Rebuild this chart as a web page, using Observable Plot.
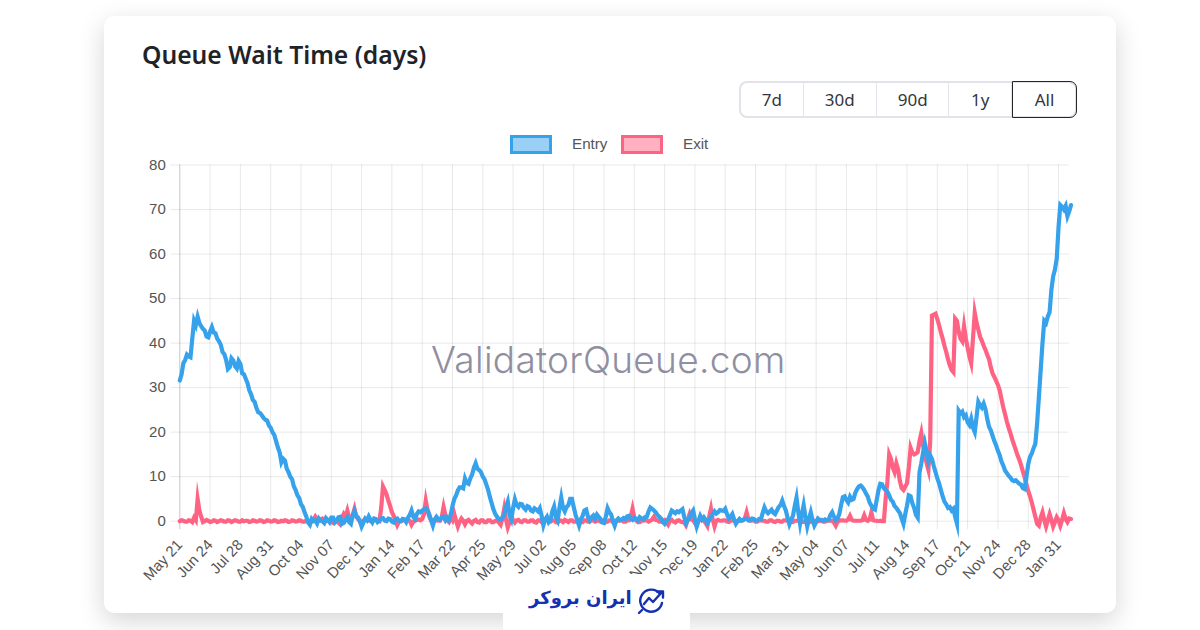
<!DOCTYPE html>
<html>
<head>
<meta charset="utf-8">
<script src="https://cdn.jsdelivr.net/npm/d3@7"></script>
<script src="https://cdn.jsdelivr.net/npm/@observablehq/plot@0.6"></script>
<style>
html,body{margin:0;padding:0;background:#fff;width:1200px;height:630px;overflow:hidden}
.abs{position:absolute}
#card{left:104px;top:16px;width:1012px;height:597px;background:#fff;border-radius:10px;box-shadow:0 8px 26px rgba(0,0,0,.17)}
#title{left:142px;top:38px;font:600 24.7px "Noto Sans",sans-serif;color:#1f2328;white-space:nowrap}
#range{left:739px;top:81px;width:338px;height:37px;box-sizing:border-box;display:flex;border:2px solid #e2e3e9;border-radius:8px;font:17px "Noto Sans",sans-serif;color:#33363b}
#range div{display:flex;align-items:center;justify-content:center;box-sizing:border-box;border-right:1px solid #e4e5ea}
#range div:last-child{border:1.5px solid #24262a;border-radius:0 7px 7px 0;margin:-2px -2px -2px 0;flex:none}
.swatch{top:135px;width:42px;height:19px;box-sizing:border-box;border:3.5px solid}
.leg{top:135px;font:15.2px "Liberation Sans",sans-serif;color:#555;line-height:17px}
#mark{left:431px;top:337px;font:300 37px "Inter",sans-serif;color:#8f8fa1;white-space:nowrap;letter-spacing:.3px}
#tab{left:503px;top:574px;width:187px;height:56px;background:#fff}
#logo{left:529px;top:587px;font:700 18px "DejaVu Sans",sans-serif;color:#1530b0;direction:rtl;white-space:nowrap}
#icon{left:636px;top:588px}
#plot{left:0;top:0}
</style>
</head>
<body>
<div id="card" class="abs"></div>
<div id="title" class="abs">Queue Wait Time (days)</div>
<div id="range" class="abs"></div>
<div class="abs swatch" style="left:510px;border-color:#36A2EB;background:rgba(54,162,235,.5)"></div>
<div class="abs leg" style="left:572px">Entry</div>
<div class="abs swatch" style="left:621px;border-color:#FF6384;background:rgba(255,99,132,.5)"></div>
<div class="abs leg" style="left:683px">Exit</div>
<div id="plot" class="abs"></div>
<div id="mark" class="abs">ValidatorQueue.com</div>
<div id="tab" class="abs"></div>
<div id="logo" class="abs">ایران بروکر</div>
<svg id="icon" class="abs" width="30" height="27" viewBox="0 0 30 27" fill="none" stroke="#1530b0" stroke-width="2.4" stroke-linecap="round" stroke-linejoin="round">
  <path d="M24 6A11 11 0 1 0 26 15"/><path d="M8 16l5-6 4 4 9-10"/><path d="M21 3.5h6v6"/><path d="M6 22l-3 3"/>
</svg>
<script>
const rangeLabels = ["7d","30d","90d","1y","All"];
const rangeWidths = [63,74,73,63,65];

const seriesStart = "2023-05-21";
const sampleStepDays = 2;

const entryWait = [
31.6,33,35.5,36.2,37.4,37,36.8,41,45,44,45.9,44.5,43.8,43.2,42.8,41.5,41.3,42.6,43.6,42.4,
42.2,41,40.4,39.6,38,37.5,36.2,34.2,34.6,36.6,36.1,34.8,34.3,36,35.3,33.2,33,32,31,29.4,
28.5,27.2,26.8,25.4,24.5,24.3,23.8,23.2,22.8,22.6,21.5,21,20,19.4,18,16.6,15.5,13.2,14,13.6,
11.8,11,10,9.4,7.8,7,5.8,5.2,3.8,3.2,2,1,-.3,-.8,.5,0,.2,-.5,.6,.1,
0,-.4,.7,.3,-.2,.8,.8,-.3,.1,.9,1,-.6,-.4,.3,.9,-.2,-.6,1.2,2.3,1.2,
.8,.1,-1.2,-.3,.6,.2,1.1,.3,-.3,.6,.5,-.2,.1,.6,.7,.1,0,.6,.5,-.1,
-.3,.4,.6,.1,0,.5,.4,-.2,.8,1.4,2.4,1,.5,1.6,2.2,2,2.4,2.7,2.9,2.5,
1.5,.2,-1,.4,1,.5,.3,.9,1,.2,.8,.3,1.5,3.4,5,5.8,6.9,7.6,7.6,7.4,
9.6,8.6,8.4,9.6,10.5,12,13,11.8,11.5,11,10,9.4,8.2,7,5.4,4,2.6,1.6,1,.4,
.3,.8,1.4,3.2,4.4,1.4,.4,3,4.9,3.6,3.2,3.9,3.8,3,2.6,3.4,3.2,2.4,2.2,2.9,
2.6,2.2,2.9,1.2,-.9,.4,1,-.2,.3,2.2,3.3,1,.2,3,5.3,3,2.2,3.2,3.6,5,
5,3.2,1.5,.2,-1,.4,1.2,2.4,2.6,1,.2,.9,1.3,.6,1.5,1,.5,-.3,-.4,1,
2.9,2,1.5,.1,-1,.2,.6,.2,.4,.7,.5,1.1,1.2,.6,.3,.8,.5,.2,.9,.6,
.4,.9,1,2.2,3.1,2.8,2.4,2,1.4,1,.6,-.2,-.6,.1,.4,1.4,2.4,2.1,1.8,2.2,
2,2.4,2.7,1,-.5,.2,.8,1.8,2.4,.5,-1.2,.1,1.2,.4,.9,.3,-.5,.2,.9,1.6,
2.2,1.7,2,2.5,2.4,2.3,2.8,1.6,.6,1,1.6,.4,-.6,0,.5,.1,.3,.5,.6,.2,
.2,.6,.5,.1,.2,.5,.4,1.8,3.1,2.2,1.8,2.2,2.6,1.9,1.6,2.4,3.2,3.6,4.6,3.4,
2.4,.8,-.7,.3,1.2,3.4,5.3,2,-.6,1.6,3.6,1,-1.2,.5,2,.2,-1,-.2,.6,.3,
.3,.1,.4,.2,.3,1.4,2,1,.2,.6,1.6,3.6,5.4,5.6,4.8,4.2,5.5,4.8,5,6.4,
7.2,7.8,8,7.6,7,6.2,5.5,4.2,3.5,2.8,2.6,4.8,7,8.4,8.3,7.4,7,6.6,5.8,4.8,
4.4,3.4,3,2.4,1.8,.6,-.6,1.6,3.5,5.8,5.6,4,3,1.4,.8,11,13,15.4,17.5,15.6,
13.5,14.8,14,12.4,11,9.6,8.5,7,5.6,4.4,3.8,3,3.2,2.4,2.8,1,-.5,24.8,24.2,24.6,
23.4,23.8,22.2,21.6,23,21,20,23.4,26.8,26,25.5,26.4,25.2,23,21.2,20.4,19.2,18,17,15.8,
14.8,13.4,12.5,11.4,10.8,10.2,9.8,9.2,9,9.2,8.8,8.4,8.2,7.4,7.2,10,12.8,14.4,15.2,16.4,
17.4,22,28,34,40,45,44.5,46,47,52,55,56.5,59,66,71,70.6,70,70.8,68.5,69.6,
71];

const exitWait = [
0,.2,.1,-.1,-.1,.2,.1,-.2,.8,.2,5,2.4,1,-.2,0,.3,.1,-.2,-.1,.2,
.1,-.2,0,.2,.1,-.1,-.1,.2,.1,-.2,0,.2,.1,-.1,-.1,.2,0,.1,.1,-.2,
-.1,.2,.1,-.1,0,.2,.1,-.2,-.1,.2,.1,-.1,0,.2,.1,-.2,-.1,.1,0,.2,
.1,-.2,-.1,.2,.1,-.1,0,.2,.1,-.1,-.1,.2,.1,-.2,.1,.3,1,.3,.2,.4,
.6,.1,0,.2,.3,-.2,-.4,.1,.2,-.3,-.7,.6,1.6,1,2.4,.8,.4,1.4,2.8,1,
.5,-.1,-.8,.1,.5,.3,.2,0,0,.3,.2,.1,0,3,7.8,7,6,4.6,3.4,2,
1.2,.2,-.9,-.1,0,.2,.2,.1,.3,.1,-.8,-.1,.1,.3,.4,.2,.5,1.6,4.6,2.4,
1,.2,0,.1,.2,.1,.1,1,3.2,1.4,.2,-.2,.8,.2,1.6,.1,-1.2,-.1,.6,.1,
-.7,.1,.3,-.1,-.5,.1,.3,-.2,-.3,.2,.2,-.2,-.2,.2,.2,-.2,-.2,.1,.1,-.3,
-.8,.6,2.8,.4,-1.4,-.2,1.2,.2,-.3,.2,.3,-.1,-.2,.2,.2,-.1,-.1,.2,.2,-.2,
-.3,.2,.2,-.2,-.2,.2,.3,-.1,-.1,.2,.2,-.2,-.3,.2,.1,-.2,.3,.1,-.2,.2,
.2,-.1,-.1,.2,.3,-.2,-.2,.2,.2,-.1,-.1,.2,.2,-.1,.1,.2,-.1,.1,.2,-.2,
-.1,.2,.2,-.2,-.2,.1,.1,.2,.2,-.1,-.1,.2,.2,1,2.8,.8,.2,-.2,-.2,.1,
.1,.2,.2,-.1,.1,.4,1,.3,.2,-.1,-.1,.2,.3,-.2,-.8,.1,.3,-.1,-.3,.1,
.2,-.1,-.2,-.3,-.9,.4,1.6,.4,.2,-.4,-1,.1,.6,.2,.2,-.4,-1.1,1,2.8,.4,
-1.2,.1,.3,.1,.1,.2,.2,-.1,-.2,.1,.2,.1,-.1,.1,.1,.2,.2,.6,2,.4,
.1,.2,.2,-.1,-.1,.2,.2,.1,.1,-.1,-.1,.2,.2,-.1,-.2,.1,.1,-.1,-.1,.2,
.2,.1,.1,-.1,-.2,.1,.1,.1,.1,-.1,-.2,.1,.2,.1,-.1,.1,.1,-.1,0,.1,
.1,-.1,-.1,.1,.1,.1,.1,-.3,-1,-.1,.1,.2,.2,.1,.1,.4,1.2,.3,.1,.1,
.1,.1,.1,.2,1.3,.3,.1,.4,2,.2,.1,.1,0,.1,0,0,5,9,15,14,
12,11,13,11.6,9,7.4,7,7.8,8.5,12,16.5,15.4,15,15.2,15.5,18,19.8,17,15,13,
11.5,18,46.2,46.4,46.6,45.4,44,42.4,41,39.4,38,36.4,35,34,33.5,45.5,45,42.6,41,40.4,
43.8,41,39,37,35.5,41,46.8,44.6,43,41.4,40.5,39.4,38.5,37.4,36.4,34.6,33.2,32.4,31.5,30.6,
29.4,27.4,25.6,24,22.4,21,19.8,18.4,17.2,16,14.8,13.8,12.6,11.2,9.8,8.2,6.8,5.6,4.2,2.6,
1,-.6,-1,.8,2,.2,-1.2,.2,1.6,.3,-1.2,-.2,.9,.2,-1,.3,1.8,.5,-.2,.6,
.5];

const tickDates = ["2023-05-21","2023-06-24","2023-07-28","2023-08-31","2023-10-04","2023-11-07","2023-12-11","2024-01-14","2024-02-17","2024-03-22","2024-04-25","2024-05-29","2024-07-02","2024-08-05","2024-09-08","2024-10-12","2024-11-15","2024-12-19","2025-01-22","2025-02-25","2025-03-31","2025-05-04","2025-06-07","2025-07-11","2025-08-14","2025-09-17","2025-10-21","2025-11-24","2025-12-28","2026-01-31"];
const yTicks = [0,10,20,30,40,50,60,70,80];

const range = document.getElementById("range");
rangeLabels.forEach((t,i)=>{const d=document.createElement("div");d.textContent=t;d.style.width=rangeWidths[i]+"px";range.appendChild(d)});

const start = new Date(seriesStart+"T00:00:00Z");
const dateAt = i => d3.utcDay.offset(start, i*sampleStepDays);
const entryRows = entryWait.map((v,i)=>({date:dateAt(i),v}));
const exitRows = exitWait.map((v,i)=>({date:dateAt(i),v}));
const ticks = tickDates.map(s=>new Date(s+"T00:00:00Z"));
const grid = "rgba(0,0,0,0.09)";

const chart = Plot.plot({
  width:1200, height:630,
  marginLeft:179.3, marginRight:129.5, marginTop:164.5, marginBottom:109.3,
  style:{background:"transparent",fontFamily:"'Liberation Sans',sans-serif",fontSize:"14.5px",color:"#555",overflow:"visible"},
  x:{type:"utc",domain:[start,dateAt(500)],label:null},
  y:{domain:[0,80],label:null},
  marks:[
    Plot.ruleY(yTicks,{y:d=>d,x1:start,x2:d3.utcDay.offset(start,998),stroke:grid,strokeWidth:1,insetLeft:-9}),
    Plot.ruleX(ticks,{x:d=>d,y1:-1.9,y2:80,stroke:grid,strokeWidth:1}),
    Plot.ruleX([start],{x:d=>d,y1:-1.9,y2:80,stroke:"rgba(0,0,0,.14)",strokeWidth:1}),
    Plot.axisY({ticks:yTicks,tickSize:0,tickPadding:14,label:null,color:"#555",fontSize:15}),
    Plot.axisX({ticks,tickFormat:"%b %d",tickSize:0,tickRotate:-47,tickPadding:21,label:null,color:"#555",fontSize:15}),
    Plot.line(exitRows,{x:"date",y:"v",stroke:"#FF6384",strokeWidth:4.2,strokeLinejoin:"miter",strokeMiterlimit:10,curve:"linear"}),
    Plot.line(entryRows,{x:"date",y:"v",stroke:"#36A2EB",strokeWidth:4.2,strokeLinejoin:"miter",strokeMiterlimit:10,curve:"linear"})
  ]
});
document.getElementById("plot").appendChild(chart);
</script>
</body>
</html>
